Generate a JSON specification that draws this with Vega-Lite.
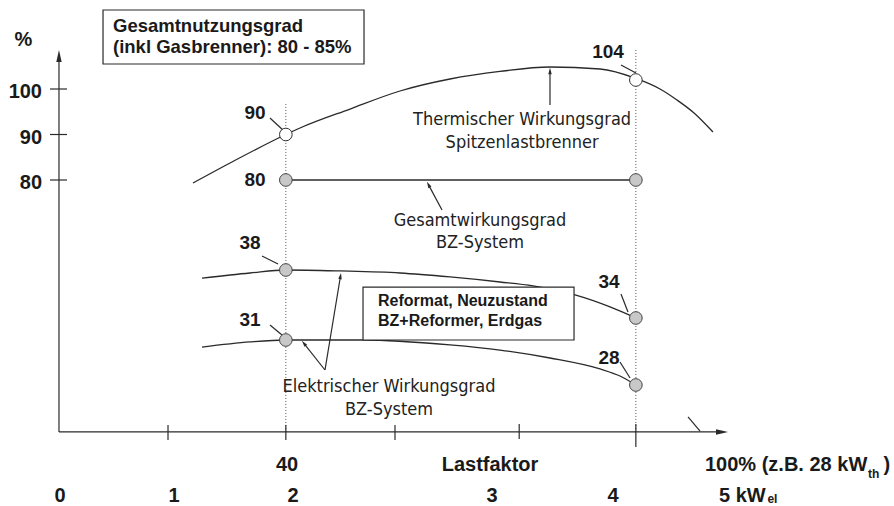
{
  "$schema": "https://vega.github.io/schema/vega-lite/v6.json",
  "width": 894,
  "height": 506,
  "autosize": "none",
  "padding": 0,
  "background": "white",
  "config": {"view": {"stroke": null}},
  "datasets": {
    "curves": [
      {"series": "Thermischer Wirkungsgrad", "x": 24.08, "y": 78.6},
      {"series": "Thermischer Wirkungsgrad", "x": 30.43, "y": 83.74},
      {"series": "Thermischer Wirkungsgrad", "x": 40, "y": 90},
      {"series": "Thermischer Wirkungsgrad", "x": 42.43, "y": 91.43},
      {"series": "Thermischer Wirkungsgrad", "x": 51.0, "y": 95.6},
      {"series": "Thermischer Wirkungsgrad", "x": 59.57, "y": 99.56},
      {"series": "Thermischer Wirkungsgrad", "x": 68.14, "y": 104.44},
      {"series": "Thermischer Wirkungsgrad", "x": 76.71, "y": 107.8},
      {"series": "Thermischer Wirkungsgrad", "x": 85.28, "y": 109.78},
      {"series": "Thermischer Wirkungsgrad", "x": 93.85, "y": 108.89},
      {"series": "Thermischer Wirkungsgrad", "x": 100, "y": 104.7},
      {"series": "Thermischer Wirkungsgrad", "x": 104.14, "y": 100.0},
      {"series": "Thermischer Wirkungsgrad", "x": 107.05, "y": 97.58},
      {"series": "Thermischer Wirkungsgrad", "x": 109.97, "y": 94.73},
      {"series": "Thermischer Wirkungsgrad", "x": 113.22, "y": 90.55},
      {"series": "Gesamtwirkungsgrad", "x": 40, "y": 80},
      {"series": "Gesamtwirkungsgrad", "x": 100, "y": 80},
      {"series": "Elektrisch Reformat", "x": 25.63, "y": 37.33},
      {"series": "Elektrisch Reformat", "x": 33.86, "y": 37.75},
      {"series": "Elektrisch Reformat", "x": 40, "y": 38},
      {"series": "Elektrisch Reformat", "x": 49.28, "y": 37.92},
      {"series": "Elektrisch Reformat", "x": 59.57, "y": 37.75},
      {"series": "Elektrisch Reformat", "x": 68.14, "y": 37.42},
      {"series": "Elektrisch Reformat", "x": 76.71, "y": 37.0},
      {"series": "Elektrisch Reformat", "x": 82.37, "y": 36.67},
      {"series": "Elektrisch Reformat", "x": 89.57, "y": 35.92},
      {"series": "Elektrisch Reformat", "x": 95.57, "y": 34.92},
      {"series": "Elektrisch Reformat", "x": 100, "y": 34},
      {"series": "Elektrisch Erdgas", "x": 25.63, "y": 30.53},
      {"series": "Elektrisch Erdgas", "x": 33.86, "y": 30.87},
      {"series": "Elektrisch Erdgas", "x": 40, "y": 31},
      {"series": "Elektrisch Erdgas", "x": 53.23, "y": 31},
      {"series": "Elektrisch Erdgas", "x": 68.14, "y": 30.67},
      {"series": "Elektrisch Erdgas", "x": 76.71, "y": 30.33},
      {"series": "Elektrisch Erdgas", "x": 85.28, "y": 29.8},
      {"series": "Elektrisch Erdgas", "x": 93.85, "y": 29.07},
      {"series": "Elektrisch Erdgas", "x": 97.28, "y": 28.6},
      {"series": "Elektrisch Erdgas", "x": 100, "y": 28}
    ],
    "guides": [
      {"x": 40, "y": 24.87, "x2": 40, "y2": 97.14},
      {"x": 100, "y": 24.87, "x2": 100, "y2": 117.78}
    ],
    "segments": [
      {"x": 1.11, "y": 24.87, "x2": 1.11, "y2": 114.67},
      {"x": 1.11, "y": 24.87, "x2": 114.77, "y2": 24.87},
      {"x": 108.94, "y": 25.87, "x2": 111.0, "y2": 24.93},
      {"x": -0.43, "y": 100, "x2": 2.49, "y2": 100},
      {"x": -0.43, "y": 90, "x2": 2.49, "y2": 90},
      {"x": -0.43, "y": 80, "x2": 2.49, "y2": 80},
      {"x": 19.8, "y": 25.33, "x2": 19.8, "y2": 24.33},
      {"x": 40, "y": 25.33, "x2": 40, "y2": 24.33},
      {"x": 58.71, "y": 25.33, "x2": 58.71, "y2": 24.33},
      {"x": 80, "y": 25.4, "x2": 80, "y2": 24.4},
      {"x": 100, "y": 25.4, "x2": 100, "y2": 23.87},
      {"x": 37.28, "y": 93.63, "x2": 39.68, "y2": 90.77},
      {"x": 97.45, "y": 110.67, "x2": 100.02, "y2": 107.11},
      {"x": 35.91, "y": 44.53, "x2": 38.66, "y2": 40.8},
      {"x": 97.45, "y": 36.0, "x2": 98.65, "y2": 34.5},
      {"x": 37.28, "y": 33.05, "x2": 39.34, "y2": 31.68},
      {"x": 97.28, "y": 29.53, "x2": 99.0, "y2": 28.47},
      {"x": 85.28, "y": 96.48, "x2": 85.28, "y2": 108.0},
      {"x": 66.77, "y": 66.0, "x2": 64.44, "y2": 77.85},
      {"x": 46.71, "y": 29.0, "x2": 43.09, "y2": 30.78},
      {"x": 46.71, "y": 29.0, "x2": 49.37, "y2": 37.5}
    ],
    "heads": [
      {"x": 85.28, "y": 108.0, "angle": 0},
      {"x": 64.44, "y": 77.85, "angle": 332},
      {"x": 43.09, "y": 30.78, "angle": 321.6},
      {"x": 49.37, "y": 37.5, "angle": 9.4}
    ],
    "axisHeads": [
      {"x": 1.11, "y": 114.67, "angle": 0},
      {"x": 114.77, "y": 24.87, "angle": 90}
    ],
    "boxes": [
      {"x": 8.66, "x2": 53.4, "y": 135.11, "y2": 111.11},
      {"x": 53.23, "x2": 89.4, "y": 36.58, "y2": 31.0}
    ],
    "openPoints": [
      {"x": 40, "y": 90},
      {"x": 100, "y": 104}
    ],
    "greyPoints": [
      {"x": 40, "y": 80},
      {"x": 100, "y": 80},
      {"x": 40, "y": 38},
      {"x": 100, "y": 34},
      {"x": 40, "y": 31},
      {"x": 100, "y": 28}
    ],
    "valueLabels": [
      {"label": "90", "x": 34.71, "y": 94.73},
      {"label": "104", "x": 95.22, "y": 116.44},
      {"label": "80", "x": 34.71, "y": 80},
      {"label": "38", "x": 33.86, "y": 50.6},
      {"label": "34", "x": 95.4, "y": 37.0},
      {"label": "31", "x": 33.86, "y": 33.73},
      {"label": "28", "x": 95.4, "y": 29.8}
    ],
    "yLabels": [
      {"label": "100", "x": -1.8, "y": 100},
      {"label": "90", "x": -1.8, "y": 90},
      {"label": "80", "x": -1.8, "y": 80}
    ],
    "centerLabels": [
      {"label": "%", "x": -4.97, "y": 121.56},
      {"label": "40", "x": 40.2, "y": 22.67},
      {"label": "Lastfaktor", "x": 75.0, "y": 22.67},
      {"label": "0", "x": 1.29, "y": 20.6},
      {"label": "1", "x": 20.83, "y": 20.6},
      {"label": "2", "x": 41.23, "y": 20.6},
      {"label": "3", "x": 75.34, "y": 20.6},
      {"label": "4", "x": 96.08, "y": 20.6}
    ],
    "leftLabels": [
      {"label": "100% (z.B. 28 kW", "x": 111.85, "y": 22.67},
      {"label": ")", "x": 142.45, "y": 22.67},
      {"label": "5 kW", "x": 114.25, "y": 20.6}
    ],
    "subLabels": [
      {"label": "th", "x": 139.79, "y": 22.07},
      {"label": "el", "x": 122.55, "y": 20.4}
    ],
    "box1Text": [
      {"label": "Gesamtnutzungsgrad", "x": 10.37, "y": 128.0},
      {"label": "(inkl Gasbrenner): 80 - 85%", "x": 10.37, "y": 118.67}
    ],
    "box2Text": [
      {"label": "Reformat, Neuzustand", "x": 55.8, "y": 35.42},
      {"label": "BZ+Reformer, Erdgas", "x": 55.8, "y": 33.59}
    ],
    "descText": [
      {"label": "Thermischer Wirkungsgrad", "x": 80.5, "y": 93.19},
      {"label": "Spitzenlastbrenner", "x": 80.5, "y": 88.24},
      {"label": "Gesamtwirkungsgrad", "x": 73.28, "y": 61.1},
      {"label": "BZ-System", "x": 73.28, "y": 50.6},
      {"label": "Elektrischer Wirkungsgrad", "x": 57.68, "y": 27.87},
      {"label": "BZ-System", "x": 57.68, "y": 26.33}
    ]
  },
  "encoding": {
    "x": {"field": "x", "type": "quantitative", "axis": null, "scale": {"domain": [-9, 144.25], "nice": false, "zero": false}},
    "y": {"field": "y", "type": "quantitative", "axis": null, "scale": {"domain": [28, 31, 34, 38, 80, 100, 104], "range": [385, 340, 318, 270, 180, 89, 80], "nice": false, "zero": false}}
  },
  "layer": [
    {
      "data": {"name": "guides"},
      "mark": {"type": "rule", "color": "#555555", "strokeWidth": 1, "strokeDash": [1, 2]},
      "encoding": {"x2": {"field": "x2"}, "y2": {"field": "y2"}}
    },
    {
      "data": {"name": "curves"},
      "mark": {"type": "line", "color": "#2a2a2a", "strokeWidth": 1.3, "interpolate": "monotone"},
      "encoding": {"detail": {"field": "series", "type": "nominal"}}
    },
    {
      "data": {"name": "boxes"},
      "mark": {"type": "rect", "fill": "white", "stroke": "#2a2a2a", "strokeWidth": 1.2},
      "encoding": {"x2": {"field": "x2"}, "y2": {"field": "y2"}}
    },
    {
      "data": {"name": "segments"},
      "mark": {"type": "rule", "color": "#2a2a2a", "strokeWidth": 1.2},
      "encoding": {"x2": {"field": "x2"}, "y2": {"field": "y2"}}
    },
    {
      "data": {"name": "heads"},
      "mark": {"type": "point", "shape": "M0,-1L0.55,1L-0.55,1Z", "filled": true, "color": "#2a2a2a", "size": 40, "opacity": 1},
      "encoding": {"angle": {"field": "angle", "type": "quantitative", "scale": null}}
    },
    {
      "data": {"name": "axisHeads"},
      "mark": {"type": "point", "shape": "M0,-1L0.45,1L-0.45,1Z", "filled": true, "color": "#2a2a2a", "size": 144, "opacity": 1},
      "encoding": {"angle": {"field": "angle", "type": "quantitative", "scale": null}}
    },
    {
      "data": {"name": "openPoints"},
      "mark": {"type": "point", "shape": "circle", "filled": true, "fill": "white", "stroke": "#333333", "strokeWidth": 1, "size": 160, "opacity": 1}
    },
    {
      "data": {"name": "greyPoints"},
      "mark": {"type": "point", "shape": "circle", "filled": true, "fill": "#c8c8c8", "stroke": "#444444", "strokeWidth": 1, "size": 160, "opacity": 1}
    },
    {
      "data": {"name": "valueLabels"},
      "mark": {"type": "text", "font": "Liberation Sans", "fontWeight": "bold", "fontSize": 19, "align": "center", "baseline": "middle", "color": "#1a1a1a"},
      "encoding": {"text": {"field": "label"}}
    },
    {
      "data": {"name": "yLabels"},
      "mark": {"type": "text", "font": "Liberation Sans", "fontWeight": "bold", "fontSize": 20, "align": "right", "baseline": "middle", "dy": 3, "color": "#1a1a1a"},
      "encoding": {"text": {"field": "label"}}
    },
    {
      "data": {"name": "centerLabels"},
      "mark": {"type": "text", "font": "Liberation Sans", "fontWeight": "bold", "fontSize": 20, "align": "center", "baseline": "middle", "color": "#1a1a1a"},
      "encoding": {"text": {"field": "label"}}
    },
    {
      "data": {"name": "leftLabels"},
      "mark": {"type": "text", "font": "Liberation Sans", "fontWeight": "bold", "fontSize": 20, "align": "left", "baseline": "middle", "color": "#1a1a1a"},
      "encoding": {"text": {"field": "label"}}
    },
    {
      "data": {"name": "subLabels"},
      "mark": {"type": "text", "font": "Liberation Sans", "fontWeight": "bold", "fontSize": 12, "align": "left", "baseline": "middle", "color": "#1a1a1a"},
      "encoding": {"text": {"field": "label"}}
    },
    {
      "data": {"name": "box1Text"},
      "mark": {"type": "text", "font": "Liberation Sans", "fontWeight": "bold", "fontSize": 18.5, "align": "left", "baseline": "middle", "color": "#1a1a1a"},
      "encoding": {"text": {"field": "label"}}
    },
    {
      "data": {"name": "box2Text"},
      "mark": {"type": "text", "font": "Liberation Sans", "fontWeight": "bold", "fontSize": 16, "align": "left", "baseline": "middle", "color": "#1a1a1a"},
      "encoding": {"text": {"field": "label"}}
    },
    {
      "data": {"name": "descText"},
      "mark": {"type": "text", "font": "DejaVu Sans Condensed", "fontWeight": "normal", "fontSize": 18, "align": "center", "baseline": "middle", "color": "#222222"},
      "encoding": {"text": {"field": "label"}}
    }
  ]
}
